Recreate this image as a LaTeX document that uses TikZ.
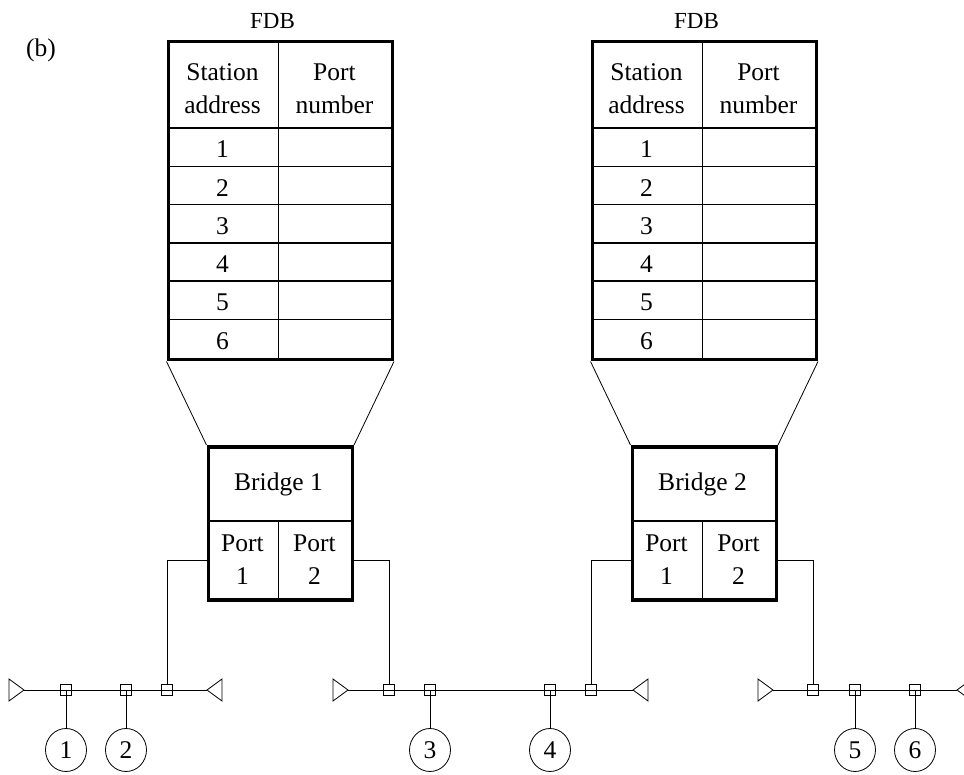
\documentclass[tikz,border=0pt]{standalone}
\usepackage{fontspec}
\setmainfont{Liberation Serif}
\usetikzlibrary{shapes.geometric}

\tikzset{
  fdbtable/.style={draw, line width=3.5pt, minimum width=224pt, minimum height=318pt, inner sep=0pt},
  bridgebox/.style={draw, line width=3.5pt, minimum width=144pt, minimum height=153pt, inner sep=0pt},
  tap/.style={draw, minimum size=11pt, inner sep=0pt},
  station/.style={draw, ellipse, minimum width=41pt, minimum height=43pt, inner sep=0pt},
  cell/.style={font=\fontsize{25.5}{33}\selectfont, align=center, inner sep=0pt},
}

\begin{document}
\begin{tikzpicture}[x=1pt,y=-1pt,line width=0.8pt]
\useasboundingbox (0,0) rectangle (964,775);
\node [cell] (lblb) at (41,50) {(b)};

% forwarding tables and bridges
\foreach \ox/\n in {166.5/1,590.5/2}{
  \node [cell,font=\fontsize{23}{26}\selectfont] (fdbtitle\n) at (\ox+106,21) {FDB};
  \draw (\ox+112,40) -- (\ox+112,358);
  \draw [line width=1.5pt] (\ox,128) -- ++(224,0);
  \foreach \r in {1,...,5} \draw [line width=1.5pt] (\ox,128+38.3*\r) -- ++(224,0);
  \node [fdbtable,anchor=north west] (fdb\n) at (\ox,40) {};
  \node [cell] (hdsta\n) at (\ox+56,89) {Station\\address};
  \node [cell] (hdport\n) at (\ox+168,89) {Port\\number};
  \foreach \r in {1,...,6} \node [cell] (row\n\r) at (\ox+56,128+38.3*\r-17) {\r};
  % bridge
  \draw [line width=1.5pt] (\ox+40,521) -- ++(144,0);
  \draw (\ox+112,521) -- (\ox+112,598);
  \node [bridgebox,anchor=north west] (bridge\n) at (\ox+40,445) {};
  \node [cell] (brname\n) at (\ox+112,484) {Bridge \n};
  \node [cell] (port\n a) at (\ox+76,560) {Port\\1};
  \node [cell] (port\n b) at (\ox+148,560) {Port\\2};
  \draw (fdb\n.south west) -- (bridge\n.north west);
  \draw (fdb\n.south east) -- (bridge\n.north east);
}

% LAN segments
\coordinate (endA1) at (24,690);  \coordinate (endA2) at (207,690);
\coordinate (endB1) at (348,690); \coordinate (endB2) at (633,690);
\coordinate (endC1) at (773,690); \coordinate (endC2) at (957,690);
\foreach \s in {A,B,C}{
  \draw (end\s1) -- (end\s2);
  \draw (end\s1) -- ++(-15,-11) -- ++(0,22) -- cycle;
  \draw (end\s2) -- ++(15,-11) -- ++(0,22) -- cycle;
}
\node [tap] (tapA1) at (66,690) {};
\node [tap] (tapA2) at (126,690) {};
\node [tap] (tapA3) at (167,690) {};
\node [tap] (tapB1) at (389,690) {};
\node [tap] (tapB2) at (430,690) {};
\node [tap] (tapB3) at (550,690) {};
\node [tap] (tapB4) at (591,690) {};
\node [tap] (tapC1) at (813,690) {};
\node [tap] (tapC2) at (855,690) {};
\node [tap] (tapC3) at (915,690) {};

% stations
\node [station,cell] (stn1) at (66,750) {1};
\node [station,cell] (stn2) at (126,750) {2};
\node [station,cell] (stn3) at (430,750) {3};
\node [station,cell] (stn4) at (550,750) {4};
\node [station,cell] (stn5) at (855,750) {5};
\node [station,cell] (stn6) at (915,750) {6};
\draw (tapA1.center) -- (stn1);
\draw (tapA2.center) -- (stn2);
\draw (tapB2.center) -- (stn3);
\draw (tapB3.center) -- (stn4);
\draw (tapC2.center) -- (stn5);
\draw (tapC3.center) -- (stn6);

% port wires
\draw (bridge1.west |- port1a) -| (tapA3);
\draw (bridge1.east |- port1b) -| (tapB1);
\draw (bridge2.west |- port2a) -| (tapB4);
\draw (bridge2.east |- port2b) -| (tapC1);
\end{tikzpicture}
\end{document}
